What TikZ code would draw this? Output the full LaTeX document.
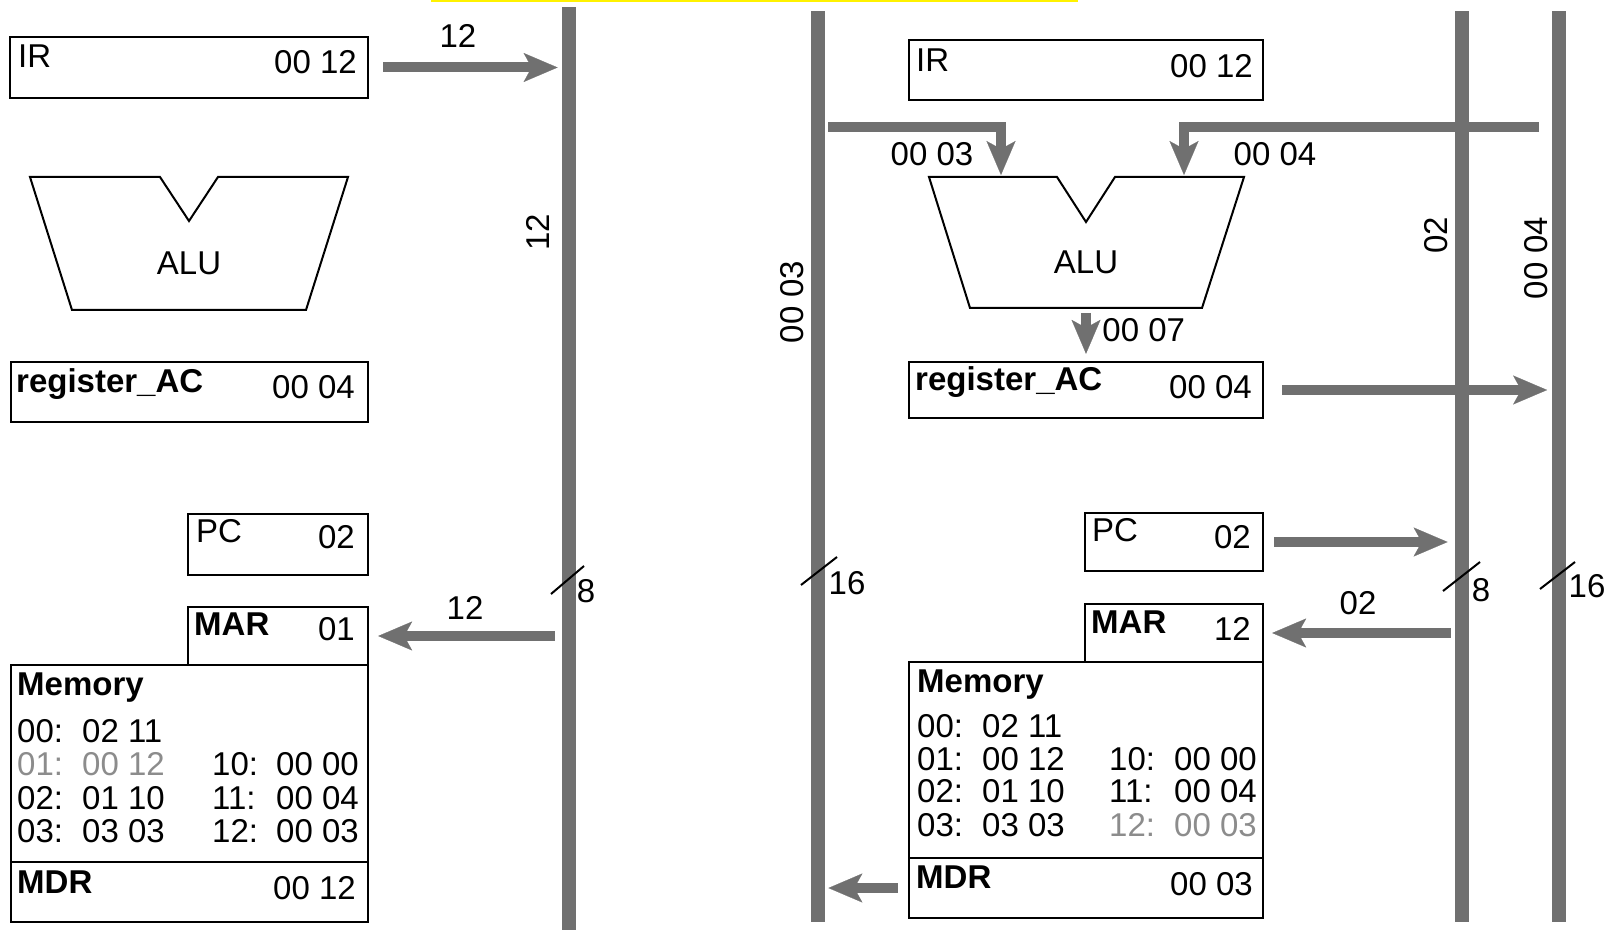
\documentclass[tikz,border=0pt]{standalone}
\usepackage{fontspec}
\setmainfont{Liberation Sans}
\usetikzlibrary{arrows.meta,fit}

\definecolor{busgray}{RGB}{112,112,112}
\definecolor{readgray}{RGB}{140,140,140}

\begin{document}
\begin{tikzpicture}[
    x=0.5pt, y=-0.5pt,
    every node/.style={font=\fontsize{16.5}{19}\selectfont, inner sep=0pt},
    reg/.style={draw, line width=1.2pt},
    bus/.style={fill=busgray, minimum width=7pt},
    busarrow/.style={draw=busgray, line width=5pt, line join=miter,
        -{Stealth[length=17pt, width=14.5pt, inset=4pt, line width=0.1pt]}},
    alu/.style={draw, line width=1pt, line join=miter},
    slash/.style={draw, line width=1pt},
    regname/.style={anchor=base west},
    regval/.style={anchor=base east}
]
\useasboundingbox (0,0) rectangle (1612,930);

% Highlight strip (top)
\fill[yellow] (431,0) rectangle (1078,2.5);

% Buses
\node[bus, minimum height=461.5pt, anchor=north] (busL) at (569,7) {};
\node[bus, minimum height=455.5pt, anchor=north] (busA) at (818,11) {};
\node[bus, minimum height=455.5pt, anchor=north] (busB) at (1462,11) {};
\node[bus, minimum height=455.5pt, anchor=north] (busC) at (1558.5,11) {};

% ---------------- Left: fetch ----------------
\node[reg, fit={(10,37) (368,98)}] (IRl) {};
\node[regname] (IRl-n) at ([shift={(9,32)}]IRl.north west) {IR};
\node[regval] (IRl-v) at ([shift={(-12,38)}]IRl.north east) {00 12};

% ALU (left)
\draw[alu] (30,177) -- (160,177) -- (189,221) -- (218,177) -- (348,177)
    -- (306,310) -- (72,310) -- cycle;
\node (ALUl) at (189,263) {ALU};

\node[reg, fit={(11,362) (368,422)}] (ACl) {};
\node[regname] (ACl-n) at ([shift={(6,32)}]ACl.north west) {\bfseries register\_AC};
\node[regval] (ACl-v) at ([shift={(-14,38)}]ACl.north east) {00 04};

\node[reg, fit={(188,514) (368,575)}] (PCl) {};
\node[regname] (PCl-n) at ([shift={(9,30)}]PCl.north west) {PC};
\node[regval] (PCl-v) at ([shift={(-14,36)}]PCl.north east) {02};

\node[reg, fit={(188,607) (368,665)}] (MARl) {};
\node[regname] (MARl-n) at ([shift={(7,30)}]MARl.north west) {\bfseries MAR};
\node[regval] (MARl-v) at ([shift={(-14,35)}]MARl.north east) {01};

\node[reg, fit={(11,665) (368,862)}] (MEMl) {};
\node[regname] (MEMl-n) at ([shift={(7,32)}]MEMl.north west) {\bfseries Memory};
\foreach \dy/\c/\a/\v/\cc/\aa/\vv [count=\i] in {
    79/black/00:/02 11/black//,
    112/readgray/01:/00 12/black/10:/00 00,
    146/black/02:/01 10/black/11:/00 04,
    179/black/03:/03 03/black/12:/00 03} {
  \node[regname, text=\c] (meml-a\i) at ([shift={(7,\dy)}]MEMl.north west) {\a};
  \node[regname, text=\c] (meml-v\i) at ([shift={(72,\dy)}]MEMl.north west) {\v};
  \node[regname, text=\cc] (meml-b\i) at ([shift={(202,\dy)}]MEMl.north west) {\aa};
  \node[regname, text=\cc] (meml-w\i) at ([shift={(266,\dy)}]MEMl.north west) {\vv};
}

\node[reg, fit={(11,862) (368,922)}] (MDRl) {};
\node[regname] (MDRl-n) at ([shift={(7,33)}]MDRl.north west) {\bfseries MDR};
\node[regval] (MDRl-v) at ([shift={(-13,39)}]MDRl.north east) {00 12};

% IR -> bus, bus -> MAR
\draw[busarrow, shorten <=7pt, shorten >=2pt] (IRl.east) -- (IRl.east -| busL.west);
\node (w12a) at (458,36) {12};
\draw[busarrow, shorten <=3.5pt, shorten >=4.5pt] (MARl.east -| busL.west) -- (MARl.east);
\node (w12b) at (465,608) {12};

% bus width and value
\node[rotate=90] (busL-v) at (538,232) {12};
\draw[slash] (551,594) -- (584,566);
\node (busL-w) at (586,591) {8};

% ---------------- Right: execute ----------------
\node[reg, fit={(909,40) (1263,100)}] (IRr) {};
\node[regname] (IRr-n) at ([shift={(8,33)}]IRr.north west) {IR};
\node[regval] (IRr-v) at ([shift={(-11,39)}]IRr.north east) {00 12};

% ALU (right)
\draw[alu] (929,177) -- (1057,177) -- (1086,222) -- (1115,177) -- (1244,177)
    -- (1202,308) -- (970,308) -- cycle;
\node (ALUr) at (1086,262) {ALU};
\coordinate (inA) at (1001,177);
\coordinate (inB) at (1184,177);
\coordinate (outR) at (1086,308);

\node[reg, fit={(909,362) (1263,418)}] (ACr) {};
\node[regname] (ACr-n) at ([shift={(7,30)}]ACr.north west) {\bfseries register\_AC};
\node[regval] (ACr-v) at ([shift={(-12,38)}]ACr.north east) {00 04};

\node[reg, fit={(1085,513) (1263,571)}] (PCr) {};
\node[regname] (PCr-n) at ([shift={(8,30)}]PCr.north west) {PC};
\node[regval] (PCr-v) at ([shift={(-13,37)}]PCr.north east) {02};

\node[reg, fit={(1085,604) (1263,662)}] (MARr) {};
\node[regname] (MARr-n) at ([shift={(7,31)}]MARr.north west) {\bfseries MAR};
\node[regval] (MARr-v) at ([shift={(-13,38)}]MARr.north east) {12};

\node[reg, fit={(909,662) (1263,858)}] (MEMr) {};
\node[regname] (MEMr-n) at ([shift={(9,32)}]MEMr.north west) {\bfseries Memory};
\foreach \dy/\c/\a/\v/\cc/\aa/\vv [count=\i] in {
    77/black/00:/02 11/black//,
    110/black/01:/00 12/black/10:/00 00,
    142/black/02:/01 10/black/11:/00 04,
    176/black/03:/03 03/readgray/12:/00 03} {
  \node[regname, text=\c] (memr-a\i) at ([shift={(9,\dy)}]MEMr.north west) {\a};
  \node[regname, text=\c] (memr-v\i) at ([shift={(74,\dy)}]MEMr.north west) {\v};
  \node[regname, text=\cc] (memr-b\i) at ([shift={(201,\dy)}]MEMr.north west) {\aa};
  \node[regname, text=\cc] (memr-w\i) at ([shift={(266,\dy)}]MEMr.north west) {\vv};
}

\node[reg, fit={(909,858) (1263,918)}] (MDRr) {};
\node[regname] (MDRr-n) at ([shift={(8,32)}]MDRr.north west) {\bfseries MDR};
\node[regval] (MDRr-v) at ([shift={(-11,39)}]MDRr.north east) {00 03};

% operands into the ALU
\draw[busarrow, shorten <=1.5pt, shorten >=1pt] (busA.east |- 0,127) -| (inA);
\node (opA) at (932,154) {00 03};
\draw[busarrow, shorten <=6pt, shorten >=1pt] (busC.west |- 0,127) -| (inB);
\node (opB) at (1275,154) {00 04};

% result into AC
\draw[busarrow, shorten <=2.5pt, shorten >=3.5pt] (outR) -- (ACr.north);
\node[anchor=west] (res) at (1102,330) {00 07};

% AC, PC, MAR, MDR transfers
\draw[busarrow, shorten <=9pt, shorten >=2pt] (ACr.east) -- (ACr.east -| busC.west);
\draw[busarrow, shorten <=5pt, shorten >=3.5pt] (PCr.east) -- (PCr.east -| busB.west);
\draw[busarrow, shorten <=2pt, shorten >=4pt] (MARr.east -| busB.west) -- (MARr.east);
\node (w02) at (1358,603) {02};
\draw[busarrow, shorten <=5pt, shorten >=1.5pt] (MDRr.west) -- (MDRr.west -| busA.east);

% bus widths and values
\node[rotate=90] (busA-v) at (792,302) {00 03};
\node[rotate=90] (busB-v) at (1436,235) {02};
\node[rotate=90] (busC-v) at (1536,258) {00 04};
\draw[slash] (801,585) -- (837,557);
\node (busA-w) at (847,583) {16};
\draw[slash] (1443,591) -- (1480,562);
\node (busB-w) at (1481,590) {8};
\draw[slash] (1540,589) -- (1575,562);
\node (busC-w) at (1587,586) {16};

\end{tikzpicture}
\end{document}
